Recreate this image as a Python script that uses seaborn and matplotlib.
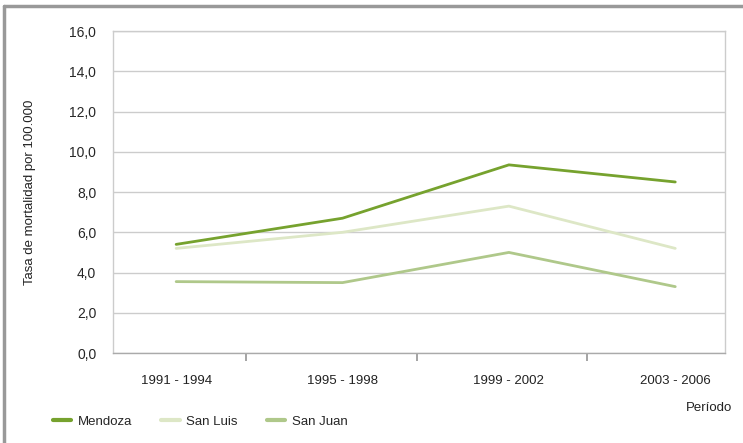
import pandas as pd
import matplotlib.pyplot as plt
import seaborn as sns
from matplotlib.lines import Line2D

sns.set_theme(style="white")
plt.rcParams["font.family"] = ["Liberation Sans Narrow", "Liberation Sans", "DejaVu Sans"]

periods = ["1991 - 1994", "1995 - 1998", "1999 - 2002", "2003 - 2006"]
mendoza = [5.4, 6.7, 9.35, 8.5]
san_luis = [5.2, 6.0, 7.3, 5.2]
san_juan = [3.55, 3.5, 5.0, 3.3]
y_ticks = [0, 2, 4, 6, 8, 10, 12, 14, 16]

colors = {"Mendoza": "#76a22e", "San Luis": "#dde7c6", "San Juan": "#afc88a"}
fs = 9.5

df = pd.DataFrame({
    "x": list(range(4)) * 3,
    "Periodo": periods * 3,
    "Tasa": mendoza + san_luis + san_juan,
    "Provincia": ["Mendoza"] * 4 + ["San Luis"] * 4 + ["San Juan"] * 4,
})

fig = plt.figure(figsize=(7.43, 4.43), dpi=100)
ax = fig.add_axes([0.152, 0.203, 0.824, 0.727])

# draw lighter lines first so Mendoza sits on top
for prov in ["San Juan", "San Luis", "Mendoza"]:
    sns.lineplot(data=df[df["Provincia"] == prov], x="x", y="Tasa",
                 color=colors[prov], linewidth=2, ax=ax, legend=False)

ax.set_ylim(0, 16)
ax.set_xlim(-0.38, 3.3)
ax.set_yticks(y_ticks)
ax.set_yticklabels([f"{v:.1f}".replace(".", ",") for v in y_ticks], fontsize=fs + 0.5)
ax.yaxis.grid(True, color="#cccccc", linewidth=1)
ax.set_axisbelow(True)

ax.set_xticks([0.42, 1.45, 2.47])
ax.set_xticklabels([])
ax.tick_params(axis="x", length=6, color="#999999", direction="out", bottom=True)
ax.tick_params(axis="y", length=0, pad=12)
for i, p in enumerate(periods):
    ax.text(i, -1.4, p, ha="center", va="center", fontsize=fs, color="#222222")

for side in ["left", "right", "top", "bottom"]:
    ax.spines[side].set_color("#cccccc")
    ax.spines[side].set_linewidth(1)
ax.spines["bottom"].set_color("#aaaaaa")

ax.set_xlabel("")
ax.set_ylabel("Tasa de mortalidad por 100.000", fontsize=fs, color="#222222", labelpad=24)

fig.text(0.985, 0.079, "Período", ha="right", va="center", fontsize=fs, color="#222222")

handles = [Line2D([0], [0], color=colors[k], linewidth=3) for k in ["Mendoza", "San Luis", "San Juan"]]
fig.legend(handles, ["Mendoza", "San Luis", "San Juan"], loc="center left",
           bbox_to_anchor=(0.055, 0.048), ncol=3, frameon=False, fontsize=fs,
           handlelength=1.4, handletextpad=0.5, columnspacing=2.2)

# outer frame lines at top and left
fig.add_artist(Line2D([0.006, 1.0], [0.986, 0.986], color="#999999", linewidth=2.5))
fig.add_artist(Line2D([0.006, 0.006], [0.0, 0.986], color="#999999", linewidth=2.5))

fig.savefig("out.png", dpi=100)
